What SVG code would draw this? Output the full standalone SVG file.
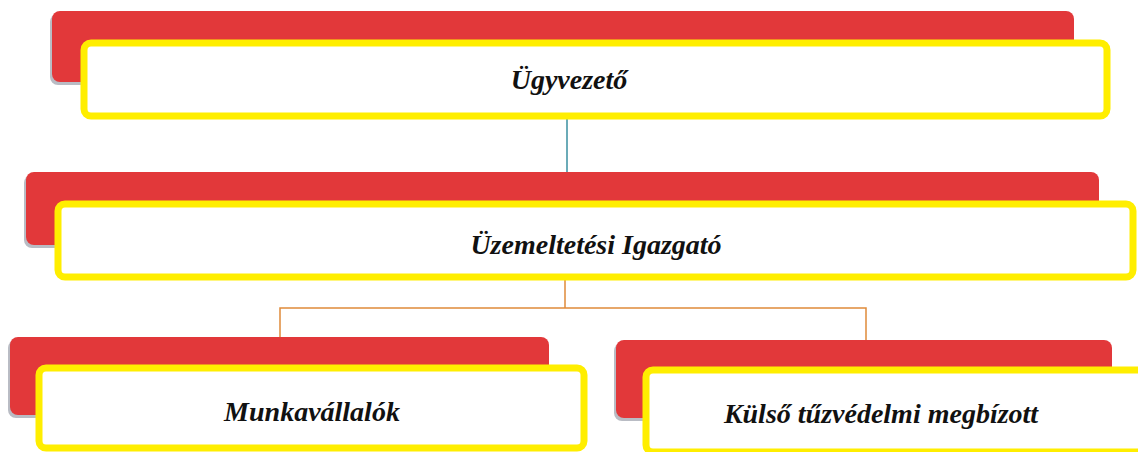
<svg xmlns="http://www.w3.org/2000/svg" width="1138" height="452" viewBox="0 0 1138 452">
<style>
.red{fill:#e2383a}
.shadow{fill:#b9bcc4}
.box{fill:#ffffff;stroke:#ffee00;stroke-width:7}
.lbl{font-family:'Liberation Serif', serif;font-weight:700;font-style:italic;font-size:28px;fill:#111;text-anchor:middle}
.c1{stroke:#3a8fa0;stroke-width:1.5;fill:none}
.c2{stroke:#e08a3a;stroke-width:1.5;fill:none}
</style>
<rect width="1138" height="452" fill="#ffffff"/>
<g id="connectors">
<line class="c1" x1="567" y1="119" x2="567" y2="201"/>
<path class="c2" d="M565 280 V308 M280 337 V308 H866 V340"/>
</g>
<g id="n1">
<rect class="shadow" x="50" y="14" width="1024" height="71" rx="8"/>
<rect class="red" x="52" y="11" width="1022" height="71" rx="8"/>
<rect class="box" x="84" y="43" width="1023" height="73" rx="7"/>
<text class="lbl" x="569" y="89">Ügyvezető</text>
</g>
<g id="n2">
<rect class="shadow" x="24" y="175" width="1075" height="73" rx="8"/>
<rect class="red" x="26" y="172" width="1073" height="73" rx="8"/>
<rect class="box" x="58" y="204" width="1075" height="73" rx="7"/>
<text class="lbl" x="596" y="254">Üzemeltetési Igazgató</text>
</g>
<g id="n3">
<rect class="shadow" x="8" y="340" width="541" height="78" rx="8"/>
<rect class="red" x="10" y="337" width="539" height="78" rx="8"/>
<rect class="box" x="39" y="368" width="545" height="80" rx="7"/>
<text class="lbl" x="312" y="421">Munkavállalók</text>
</g>
<g id="n4">
<rect class="shadow" x="614" y="343" width="498" height="78" rx="8"/>
<rect class="red" x="616" y="340" width="496" height="78" rx="8"/>
<rect class="box" x="646" y="370" width="500" height="82" rx="7"/>
<text class="lbl" x="881" y="423" font-size="27.5">Külső tűzvédelmi megbízott</text>
</g>
</svg>
